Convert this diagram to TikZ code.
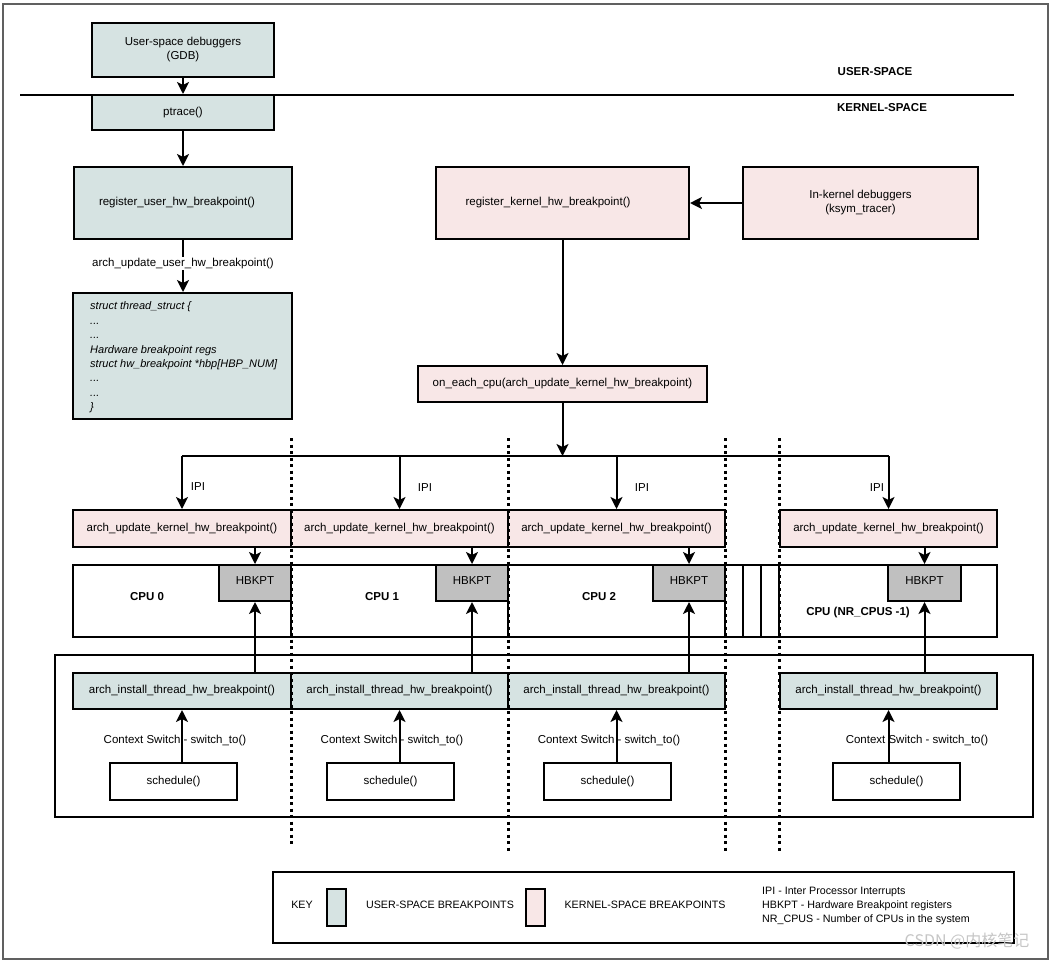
\documentclass[tikz,border=0pt]{standalone}
\usepackage{fontspec}
\setmainfont{Liberation Sans}
\newfontfamily\cjkfont{Noto Sans CJK SC}
\usetikzlibrary{arrows.meta,calc}
\definecolor{userfill}{HTML}{D6E3E2}
\definecolor{kernfill}{HTML}{F8E7E7}
\definecolor{hbfill}{HTML}{C0C0C0}
\begin{document}
\begin{tikzpicture}[x=1pt,y=-1pt,
  base/.style={draw=black, line width=2pt, inner sep=0pt, anchor=center, font=\fontsize{11.5}{14}\selectfont, align=center},
  ubox/.style={base, fill=userfill},
  kbox/.style={base, fill=kernfill},
  wbox/.style={base, fill=white},
  hbbox/.style={base, fill=hbfill},
  arr/.style={draw=black, line width=2pt, -{Stealth[length=12pt,width=12pt,inset=3pt]}},
  wire/.style={draw=black, line width=2pt},
  vdots/.style={draw=black, line width=3pt, dash pattern=on 3pt off 3.5pt},
  lbl/.style={font=\fontsize{11.5}{14}\selectfont, inner sep=0pt},
  boldlbl/.style={font=\fontsize{11.5}{14}\selectfont\bfseries, inner sep=0pt},
  keytxt/.style={font=\fontsize{10.7}{14}\selectfont, inner sep=0pt},
]
\useasboundingbox (0,0) rectangle (1051,962);
\fill[white] (0,0) rectangle (1051,962);
% outer frame
\draw[gray!75!black, line width=1.5pt] (3,4) rectangle (1048,959);
% user / kernel divider
\coordinate (divL) at (20,95);
\coordinate (divR) at (1014,95);
\draw[wire] (divL) -- (divR);
\node[boldlbl] (ustag) at (875,72) {USER-SPACE};
\node[boldlbl] (kstag) at (882,108) {KERNEL-SPACE};

% user side
\node[ubox, minimum width=182pt, minimum height=54pt] (gdb) at (183,50) {User-space debuggers\\(GDB)};
\node[ubox, minimum width=182pt, minimum height=35pt] (ptrace) at (183,112.5) {ptrace()};
\node[ubox, minimum width=218pt, minimum height=72pt] (ruser) at (183,203) {\hspace*{-12pt}register\_user\_hw\_breakpoint()};
\node[ubox, minimum width=219pt, minimum height=126pt] (tstruct) at (182.5,356) {};
\node[anchor=west, align=left, inner sep=0pt, font=\fontsize{11}{14.4}\selectfont\itshape] (tstructtxt) at (90,357.5)
  {struct thread\_struct \{\\...\\...\\Hardware breakpoint regs\\struct hw\_breakpoint *hbp[HBP\_NUM]\\...\\...\\\}};

% kernel side
\node[kbox, minimum width=253pt, minimum height=72pt] (rkern) at (562.5,203) {\hspace*{-29pt}register\_kernel\_hw\_breakpoint()};
\node[kbox, minimum width=235pt, minimum height=72pt] (inkern) at (860.5,203) {In-kernel debuggers\\(ksym\_tracer)};
\node[kbox, minimum width=289pt, minimum height=36pt] (oneach) at (562.5,384) {on\_each\_cpu(arch\_update\_kernel\_hw\_breakpoint)};

% per-cpu update boxes
\node[kbox, minimum width=218pt, minimum height=37pt] (au0) at (182,528.5) {arch\_update\_kernel\_hw\_breakpoint()};
\node[kbox, minimum width=217pt, minimum height=37pt] (au1) at (399.5,528.5) {arch\_update\_kernel\_hw\_breakpoint()};
\node[kbox, minimum width=217pt, minimum height=37pt] (au2) at (616.5,528.5) {arch\_update\_kernel\_hw\_breakpoint()};
\node[kbox, minimum width=217pt, minimum height=37pt] (au3) at (888.5,528.5) {arch\_update\_kernel\_hw\_breakpoint()};

% CPU row
\node[wbox, minimum width=218pt, minimum height=72pt] (cpu0) at (182,601) {};
\node[wbox, minimum width=217pt, minimum height=72pt] (cpu1) at (399.5,601) {};
\node[wbox, minimum width=217pt, minimum height=72pt] (cpu2) at (616.5,601) {};
\node[wbox, minimum width=18pt, minimum height=72pt] (gap1) at (734,601) {};
\node[wbox, minimum width=18pt, minimum height=72pt] (gap2) at (752,601) {};
\node[wbox, minimum width=18pt, minimum height=72pt] (gap3) at (770,601) {};
\node[wbox, minimum width=218pt, minimum height=72pt] (cpuN) at (888,601) {};
\node[boldlbl] (cpu0lbl) at (147,597) {CPU 0};
\node[boldlbl] (cpu1lbl) at (382,597) {CPU 1};
\node[boldlbl] (cpu2lbl) at (599,597) {CPU 2};
\node[boldlbl] (cpuNlbl) at (858,613) {CPU (NR\_CPUS -1)};
\node[hbbox, minimum width=72pt, minimum height=36pt] (hb0) at (255,583) {\raisebox{5pt}{HBKPT}};
\node[hbbox, minimum width=72pt, minimum height=36pt] (hb1) at (472,583) {\raisebox{5pt}{HBKPT}};
\node[hbbox, minimum width=72pt, minimum height=36pt] (hb2) at (689,583) {\raisebox{5pt}{HBKPT}};
\node[hbbox, minimum width=73pt, minimum height=36pt] (hb3) at (924.5,583) {\raisebox{5pt}{HBKPT}};

% context switch group
\node[base, minimum width=978pt, minimum height=162pt] (grp) at (544,736) {};
\node[ubox, minimum width=218pt, minimum height=36pt] (ai0) at (182,691) {arch\_install\_thread\_hw\_breakpoint()};
\node[ubox, minimum width=217pt, minimum height=36pt] (ai1) at (399.5,691) {arch\_install\_thread\_hw\_breakpoint()};
\node[ubox, minimum width=217pt, minimum height=36pt] (ai2) at (616.5,691) {arch\_install\_thread\_hw\_breakpoint()};
\node[ubox, minimum width=217pt, minimum height=36pt] (ai3) at (888.5,691) {arch\_install\_thread\_hw\_breakpoint()};
\node[wbox, minimum width=127pt, minimum height=37pt] (sch0) at (173.5,781.5) {schedule()};
\node[wbox, minimum width=127pt, minimum height=37pt] (sch1) at (390.5,781.5) {schedule()};
\node[wbox, minimum width=127pt, minimum height=37pt] (sch2) at (607.5,781.5) {schedule()};
\node[wbox, minimum width=127pt, minimum height=37pt] (sch3) at (896.5,781.5) {schedule()};

% arrows, user side
\draw[arr] (gdb) -- (ptrace);
\draw[arr] (ptrace) -- (ruser);
\draw[arr] (ruser.south) -- (ruser.south |- tstruct.north)
  node[lbl, fill=white, inner sep=1.5pt, pos=0.45] (auulbl) {arch\_update\_user\_hw\_breakpoint()};

% arrows, kernel side
\draw[arr] (inkern) -- (rkern);
\draw[arr] (rkern) -- (oneach);
\coordinate (busL) at (182,456);
\coordinate (busR) at (888.5,456);
\draw[arr] (oneach.south) -- (oneach.south |- busL);
\draw[wire] (au0.north |- busL) -- (au3.north |- busL);
\draw[arr] (au0.north |- busL) -- (au0.north);
\draw[arr] (au1.north |- busL) -- (au1.north);
\draw[arr] (au2.north |- busL) -- (au2.north);
\draw[arr] (au3.north |- busL) -- (au3.north);
\node[lbl] (ipi0) at (198,487) {IPI};
\node[lbl] (ipi1) at (425,488) {IPI};
\node[lbl] (ipi2) at (642,488) {IPI};
\node[lbl] (ipi3) at (877,488) {IPI};

\draw[arr] (au0.south -| hb0.north) -- (hb0.north);
\draw[arr] (au1.south -| hb1.north) -- (hb1.north);
\draw[arr] (au2.south -| hb2.north) -- (hb2.north);
\draw[arr] (au3.south -| hb3.north) -- (hb3.north);

\draw[arr] (ai0.north -| hb0.south) -- (hb0.south);
\draw[arr] (ai1.north -| hb1.south) -- (hb1.south);
\draw[arr] (ai2.north -| hb2.south) -- (hb2.south);
\draw[arr] (ai3.north -| hb3.south) -- (hb3.south);

\draw[arr] (sch0.north -| ai0.south) -- (ai0.south);
\draw[arr] (sch1.north -| ai1.south) -- (ai1.south);
\draw[arr] (sch2.north -| ai2.south) -- (ai2.south);
\draw[arr] (sch3.north -| ai3.south) -- (ai3.south);
\node[lbl] (cs0) at (175,741) {Context Switch - switch\_to()};
\node[lbl] (cs1) at (392,741) {Context Switch - switch\_to()};
\node[lbl] (cs2) at (609,741) {Context Switch - switch\_to()};
\node[lbl] (cs3) at (917,741) {Context Switch - switch\_to()};

% dotted CPU separators
\coordinate (d1t) at (291,438); \coordinate (d1b) at (291,847);
\coordinate (d2t) at (508,438); \coordinate (d2b) at (508,853);
\coordinate (d3t) at (725,438); \coordinate (d3b) at (725,853);
\coordinate (d4t) at (779,438); \coordinate (d4b) at (779,853);
\draw[vdots] (d1t) -- (d1b);
\draw[vdots] (d2t) -- (d2b);
\draw[vdots] (d3t) -- (d3b);
\draw[vdots] (d4t) -- (d4b);

% legend
\node[base, minimum width=741pt, minimum height=71pt] (legend) at (643.5,907.5) {};
\node[keytxt] (key) at (302,905) {KEY};
\node[ubox, minimum width=19pt, minimum height=37pt] (sw1) at (336.5,907.5) {};
\node[keytxt] (sw1txt) at (440,905) {USER-SPACE BREAKPOINTS};
\node[kbox, minimum width=19pt, minimum height=37pt] (sw2) at (535.5,907.5) {};
\node[keytxt] (sw2txt) at (645,905) {KERNEL-SPACE BREAKPOINTS};
\node[keytxt, anchor=west, align=left] (abbr) at (762,906)
  {IPI - Inter Processor Interrupts\\HBKPT - Hardware Breakpoint registers\\NR\_CPUS - Number of CPUs in the system};

% watermark
\node[font=\cjkfont\fontsize{16}{18}\selectfont, text=gray!45, inner sep=0pt] (wm) at (967,941) {CSDN @内核笔记};
\end{tikzpicture}
\end{document}
